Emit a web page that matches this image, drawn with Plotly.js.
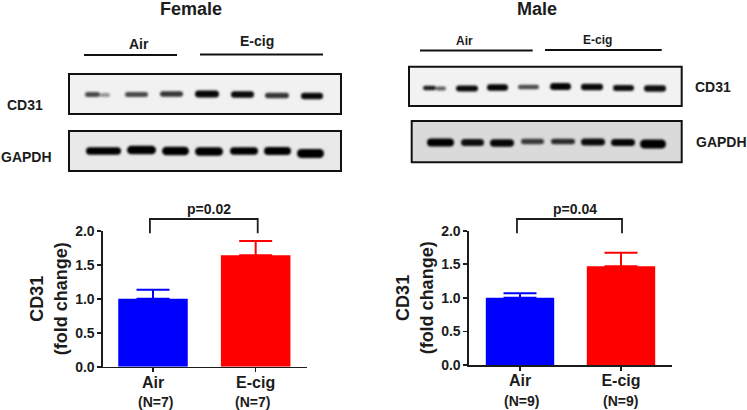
<!DOCTYPE html>
<html>
<head>
<meta charset="utf-8">
<script src="https://cdn.plot.ly/plotly-3.0.1.min.js"></script>
<style>
html,body{margin:0;padding:0;background:#fff}
#chart{width:747px;height:410px}
.js-line{stroke-linecap:round}
.x3y3 .scatterlayer{filter:blur(1.1px)}
</style>
</head>
<body>
<div id="chart"></div>
<script>
// Bar chart values
var categories = ['Air', 'E-cig'];
var femaleMeans = [1.0, 1.64];
var femaleErrors = [0.13, 0.21];
var maleMeans = [1.0, 1.47];
var maleErrors = [0.07, 0.20];
var barColors = ['#0000ff', '#ff0000'];
var femaleN = ['(N=7)', '(N=7)'];
var maleN = ['(N=9)', '(N=9)'];
var femaleP = 'p=0.02';
var maleP = 'p=0.04';
var yTicks = [0, 0.5, 1, 1.5, 2];

// Blot band readings: [left, right, vertical centre, thickness, darkness 0-1]
var femaleCD31Bands = [
  [85,100,94.5,4,0.62],[100,110,95,3,0.22],[125,148,94.5,4,0.62],[160,183,94,4.5,0.72],
  [195,219,94,6,0.97],[231,254,94.5,5.5,0.95],[265,289,95.5,4.5,0.72],[301,323,96,5.5,0.95]];
var femaleGAPDHBands = [
  [86,121,151,6.5,1],[127,156,150,7.5,1],[162,189,151,7.5,1],[195,223,151.5,7.5,1],
  [230,258,151,6.5,1],[264,291,151,7,1],[297,324,153.5,8,1]];
var maleCD31Bands = [
  [423,436,88,3.5,0.85],[436,446,88.5,3,0.5],[456,478,88.5,5,0.95],[487,508,87.5,5.5,0.97],
  [518,539,87,3.5,0.6],[550,571,86.5,6,0.98],[581,603,87,5.5,0.96],[613,634,88,5,0.92],[644,666,88.5,5.5,0.92]];
var maleGAPDHBands = [
  [427,454,142.5,7,1],[461,484,142.5,6,0.92],[490,514,143,6.5,0.97],[521,544,141.5,4.5,0.7],
  [551,575,141.5,4.5,0.78],[581,605,142,6,0.95],[611,635,142.5,6,0.97],[640,666,144,8,1]];
var sexLabels = ['Female', 'Male'];

var font = 'Liberation Sans, Arial, sans-serif';
var ink = '#1c1c1c';
var traces = [];

function addBands(bands) {
  bands.forEach(function (b) {
    var g = Math.round(190 * (1 - b[4]));
    var w = b[3] + 1;
    traces.push({
      type: 'scatter', mode: 'lines', xaxis: 'x3', yaxis: 'y3', hoverinfo: 'skip', showlegend: false,
      x: [b[0] + w / 2, b[1] - w / 2], y: [b[2], b[2]],
      line: {color: 'rgb(' + g + ',' + g + ',' + g + ')', width: w}
    });
  });
}
addBands(femaleCD31Bands); addBands(femaleGAPDHBands); addBands(maleCD31Bands); addBands(maleGAPDHBands);

function addBars(means, errors, xa, ya) {
  categories.forEach(function (c, i) {
    traces.push({
      type: 'bar', x: [i], y: [means[i]], xaxis: xa, yaxis: ya, width: 0.677, showlegend: false, name: c,
      marker: {color: barColors[i], line: {width: 0}},
      error_y: {type: 'data', symmetric: false, array: [errors[i]], arrayminus: [0],
                color: barColors[i], thickness: 2, width: 16.5}
    });
  });
}
addBars(femaleMeans, femaleErrors, 'x', 'y');
addBars(maleMeans, maleErrors, 'x2', 'y2');

function bx(a, b) { return [a / 747, b / 747]; }
function by(top, bottom) { return [1 - bottom / 410, 1 - top / 410]; }

function xAxis(dom, range, anchor) {
  return {domain: dom, range: range, anchor: anchor, tickvals: [0, 1], ticktext: categories,
    showgrid: false, zeroline: false, showline: true, linecolor: ink, linewidth: 1.6,
    ticks: 'outside', ticklen: 4, tickwidth: 1.6, tickcolor: ink, ticklabelstandoff: -4,
    tickfont: {family: font, size: 16, color: ink, weight: 700}};
}
function yAxis(dom, anchor) {
  return {domain: dom, range: [0, 2], anchor: anchor, tickvals: yTicks, tickformat: '.1f',
    showgrid: false, zeroline: false, showline: true, linecolor: ink, linewidth: 1.6,
    ticks: 'outside', ticklen: 4, tickwidth: 1.6, tickcolor: ink,
    tickfont: {family: font, size: 14, color: ink, weight: 700},
    title: {text: 'CD31<br>(fold change)', standoff: 3, font: {family: font, size: 18, color: ink, weight: 700}}};
}

function label(text, x, y, size, extra) {
  return Object.assign({text: text, x: x, y: y, xref: 'x3', yref: 'y3', showarrow: false,
    xanchor: 'center', yanchor: 'middle',
    font: {family: font, size: size, color: ink, weight: 700}}, extra || {});
}
var annotations = [
  label(sexLabels[0], 190.7, 9, 18), label(sexLabels[1], 536.5, 9, 18),
  label(categories[0], 138.5, 44, 14), label(categories[1], 257, 41, 14),
  label(categories[0], 464, 41, 12), label(categories[1], 597.7, 40, 12),
  label('CD31', 24.5, 105, 14), label('GAPDH', 26, 156.7, 14),
  label('CD31', 713, 87, 14), label('GAPDH', 721.7, 142, 14),
  label(femaleP, 209, 209.3, 14), label(maleP, 575, 209, 14),
  label(femaleN[0], 155, 402, 14), label(femaleN[1], 252, 402, 14),
  label(maleN[0], 521, 400.7, 14), label(maleN[1], 620.7, 400.7, 14)
];

function panel(x0, y0, x1, y1, fill) {
  return {type: 'rect', xref: 'x3', yref: 'y3', x0: x0, y0: y0, x1: x1, y1: y1, layer: 'below',
    fillcolor: fill, line: {color: '#111', width: 2}};
}
function rule(x0, x1, y) {
  return {type: 'line', xref: 'x3', yref: 'y3', x0: x0, x1: x1, y0: y, y1: y, line: {color: '#111', width: 2}};
}
function bracket(xa, left, right, top, bottom) {
  var t = 1 - top / 410, b = 1 - bottom / 410;
  return {type: 'path', xref: xa, yref: 'paper',
    path: 'M' + left + ',' + b + ' L' + left + ',' + t + ' L' + right + ',' + t + ' L' + right + ',' + b,
    line: {color: ink, width: 1.8}};
}
var shapes = [
  panel(69, 74, 341, 114, '#f1f1f1'), panel(69, 131, 341, 171, '#e9e9e9'),
  panel(409, 66.7, 681.7, 106, '#f2f2f2'), panel(411.7, 121, 681.7, 162.3, '#dadada'),
  rule(84, 177, 55), rule(200, 323, 54.5), rule(420, 532.7, 50.5), rule(545, 661.7, 50),
  bracket('x', -0.03, 1.02, 219, 233.3), bracket('x2', -0.03, 1.01, 219, 233.3)
];

var layout = {
  width: 747, height: 410, margin: {l: 0, r: 0, t: 0, b: 0},
  paper_bgcolor: '#fff', plot_bgcolor: 'rgba(0,0,0,0)', barmode: 'overlay', showlegend: false,
  xaxis: xAxis(bx(103, 307), [-0.487, 1.5], 'y'),
  yaxis: yAxis(by(230.7, 366.7), 'x'),
  xaxis2: xAxis(bx(469, 671.7), [-0.505, 1.502], 'y2'),
  yaxis2: yAxis(by(230.7, 365), 'x2'),
  xaxis3: {domain: [0, 1], range: [0, 747], visible: false, anchor: 'y3', fixedrange: true},
  yaxis3: {domain: [0, 1], range: [410, 0], visible: false, anchor: 'x3', fixedrange: true},
  annotations: annotations, shapes: shapes
};
Plotly.newPlot('chart', traces, layout, {displayModeBar: false, staticPlot: true});
</script>
</body>
</html>
